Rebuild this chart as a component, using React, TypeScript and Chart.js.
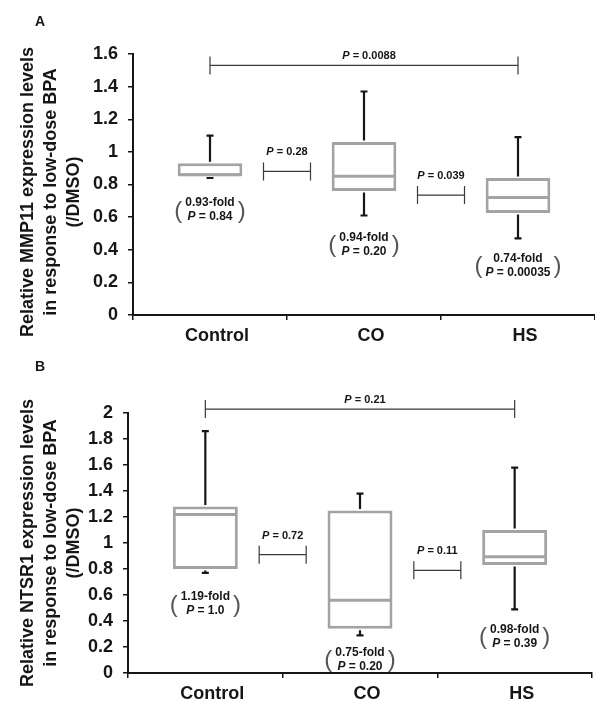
import React, { useEffect, useRef } from 'react';
import { Chart, registerables } from 'chart.js';

Chart.register(...registerables);

// ---------- Data ----------
const categories = ['Control', 'CO', 'HS'];

// Panel A: MMP11 (box plot summaries)
const mmp11Min = [0.84, 0.61, 0.47];
const mmp11Q1 = [0.85, 0.76, 0.625];
const mmp11Median = [0.86, 0.85, 0.72];
const mmp11Q3 = [0.93, 1.06, 0.84];
const mmp11Max = [1.1, 1.37, 1.09];
const mmp11Fold = ['0.93-fold', '0.94-fold', '0.74-fold'];
const mmp11FoldP = ['0.84', '0.20', '0.00035'];
// comparisons: [from category, to category, bracket height, P]
const mmp11Pairs = [
  [0, 2, 1.53, '0.0088'],
  [0, 1, 0.88, '0.28'],
  [1, 2, 0.735, '0.039'],
];

// Panel B: NTSR1
const ntsr1Min = [0.77, 0.29, 0.49];
const ntsr1Q1 = [0.8, 0.34, 0.83];
const ntsr1Median = [1.22, 0.56, 0.895];
const ntsr1Q3 = [1.28, 1.25, 1.1];
const ntsr1Max = [1.86, 1.38, 1.58];
const ntsr1Fold = ['1.19-fold', '0.75-fold', '0.98-fold'];
const ntsr1FoldP = ['1.0', '0.20', '0.39'];
const ntsr1Pairs = [
  [0, 2, 2.03, '0.21'],
  [0, 1, 0.91, '0.72'],
  [1, 2, 0.79, '0.11'],
];

// ---------- Styles ----------
const FONT = '"Liberation Sans", Arial, Helvetica, sans-serif';
const INK = '#161616';
const BOX_COLOR = '#a3a3a3';
const BRACKET_COLOR = '#3a3a3a';

type Panel = {
  letter: string;
  yTitle: string[];
  yMax: number;
  min: number[];
  q1: number[];
  median: number[];
  q3: number[];
  max: number[];
  fold: string[];
  foldP: string[];
  pairs: (number | string)[][];
  layout: { top: number; right: number; left: number; xHeight: number; labelGap: number[]; titleShift: string };
};

function drawPText(ctx: CanvasRenderingContext2D, cx: number, y: number, value: string, size: number) {
  const italic = `italic bold ${size}px ${FONT}`;
  const bold = `bold ${size}px ${FONT}`;
  ctx.font = italic;
  const w1 = ctx.measureText('P').width;
  const rest = ' = ' + value;
  ctx.font = bold;
  const w2 = ctx.measureText(rest).width;
  const start = cx - (w1 + w2) / 2;
  ctx.textAlign = 'left';
  ctx.textBaseline = 'middle';
  ctx.font = italic;
  ctx.fillText('P', start, y);
  ctx.font = bold;
  ctx.fillText(rest, start + w1, y);
  return w1 + w2;
}

const boxPlugin = {
  id: 'boxExtras',
  afterDatasetsDraw(chart: any, _args: any, opts: any) {
    const p: Panel = opts.panel;
    const ctx: CanvasRenderingContext2D = chart.ctx;
    const xs = chart.scales.x;
    const ys = chart.scales.y;
    const meta = chart.getDatasetMeta(0);
    ctx.save();

    meta.data.forEach((bar: any, i: number) => {
      const cx = bar.x;
      const half = bar.width / 2;
      // median
      ctx.strokeStyle = BOX_COLOR;
      ctx.lineWidth = 3;
      const my = ys.getPixelForValue(p.median[i]);
      ctx.beginPath();
      ctx.moveTo(cx - half + 1.5, my);
      ctx.lineTo(cx + half - 1.5, my);
      ctx.stroke();

      // whiskers
      ctx.strokeStyle = INK;
      ctx.lineWidth = 2.2;
      const yq3 = ys.getPixelForValue(p.q3[i]) - 1.5;
      const yq1 = ys.getPixelForValue(p.q1[i]) + 1.5;
      const yMaxP = ys.getPixelForValue(p.max[i]);
      const yMinP = ys.getPixelForValue(p.min[i]);
      ctx.beginPath();
      ctx.moveTo(cx, yq3);
      ctx.lineTo(cx, yMaxP);
      ctx.moveTo(cx - 3.5, yMaxP);
      ctx.lineTo(cx + 3.5, yMaxP);
      ctx.moveTo(cx, Math.min(yq1, yMinP));
      ctx.lineTo(cx, yMinP);
      ctx.moveTo(cx - 3.5, yMinP);
      ctx.lineTo(cx + 3.5, yMinP);
      ctx.stroke();

      // fold annotation
      const y1 = yMinP + p.layout.labelGap[i];
      const y2 = y1 + 14;
      ctx.fillStyle = INK;
      ctx.font = `bold 12px ${FONT}`;
      ctx.textAlign = 'center';
      ctx.textBaseline = 'middle';
      ctx.fillText(p.fold[i], cx, y1);
      const wFold = ctx.measureText(p.fold[i]).width;
      const wP = drawPText(ctx, cx, y2, p.foldP[i], 12);
      const hw = Math.max(wFold, wP) / 2 + 7;
      ctx.fillStyle = '#555';
      ctx.font = `24px ${FONT}`;
      ctx.textAlign = 'center';
      ctx.textBaseline = 'middle';
      ctx.fillText('(', cx - hw, (y1 + y2) / 2 + 1);
      ctx.fillText(')', cx + hw, (y1 + y2) / 2 + 1);
    });

    // comparison brackets
    p.pairs.forEach((pair) => {
      const a = pair[0] as number;
      const b = pair[1] as number;
      const yv = pair[2] as number;
      const pv = pair[3] as string;
      const y = ys.getPixelForValue(yv);
      let x1: number, x2: number, textGap: number;
      const tick = 9;
      if (b - a > 1) {
        x1 = xs.getPixelForValue(a);
        x2 = xs.getPixelForValue(b);
        textGap = 9;
      } else {
        const mid = xs.getPixelForValue((a + b) / 2);
        x1 = mid - 23.5;
        x2 = mid + 23.5;
        textGap = 19;
      }
      ctx.strokeStyle = BRACKET_COLOR;
      ctx.lineWidth = 1.2;
      ctx.beginPath();
      ctx.moveTo(x1, y);
      ctx.lineTo(x2, y);
      ctx.moveTo(x1, y - tick);
      ctx.lineTo(x1, y + tick);
      ctx.moveTo(x2, y - tick);
      ctx.lineTo(x2, y + tick);
      ctx.stroke();
      ctx.fillStyle = INK;
      drawPText(ctx, (x1 + x2) / 2 + (b - a > 1 ? 5 : 0), y - textGap, pv, 11);
    });

    // panel letter
    ctx.fillStyle = INK;
    ctx.font = `bold 14px ${FONT}`;
    ctx.textAlign = 'center';
    ctx.textBaseline = 'middle';
    ctx.fillText(p.letter, 40, 22);
    ctx.restore();
  },
};

function buildConfig(p: Panel): any {
  return {
    type: 'bar',
    data: {
      labels: categories,
      datasets: [
        {
          data: p.q1.map((v, i) => [v, p.q3[i]]),
          backgroundColor: '#ffffff',
          borderColor: BOX_COLOR,
          borderWidth: 3,
          borderSkipped: false,
          barPercentage: 0.42,
          categoryPercentage: 1,
        },
      ],
    },
    options: {
      responsive: false,
      maintainAspectRatio: false,
      animation: false,
      events: [],
      layout: { padding: { top: p.layout.top, right: p.layout.right, bottom: 0, left: 0 } },
      plugins: {
        legend: { display: false },
        tooltip: { enabled: false },
        title: { display: false },
        boxExtras: { panel: p },
      },
      scales: {
        x: {
          type: 'category',
          offset: true,
          grid: {
            offset: true,
            drawOnChartArea: false,
            drawTicks: true,
            tickLength: 5,
            color: INK,
            lineWidth: 1.5,
          },
          border: { display: true, color: INK, width: 2 },
          ticks: {
            color: INK,
            font: { family: FONT, size: 18, weight: 'bold' },
            padding: 5,
            labelOffset: 7,
            maxRotation: 0,
          },
          afterFit: (s: any) => {
            s.height = p.layout.xHeight;
          },
        },
        y: {
          min: 0,
          max: p.yMax,
          ticks: {
            stepSize: 0.2,
            color: INK,
            font: { family: FONT, size: 18, weight: 'bold' },
            padding: 10,
            callback: (v: any) => String(Number(Number(v).toFixed(2))),
          },
          grid: {
            drawOnChartArea: false,
            drawTicks: true,
            tickLength: 5,
            color: INK,
            lineWidth: 1.5,
          },
          border: { display: true, color: INK, width: 2 },
          title: {
            display: true,
            text: p.yTitle.map((t) => t + p.layout.titleShift),
            color: INK,
            font: { family: FONT, size: 18, weight: 'bold', lineHeight: 1.3 },
            padding: { top: 16, bottom: 0 },
          },
          afterFit: (s: any) => {
            s.width = p.layout.left;
          },
        },
      },
    },
    plugins: [boxPlugin],
  };
}

const panelA: Panel = {
  letter: 'A',
  yTitle: ['Relative MMP11 expression levels', 'in response to low-dose BPA', '(/DMSO)'],
  yMax: 1.6,
  min: mmp11Min,
  q1: mmp11Q1,
  median: mmp11Median,
  q3: mmp11Q3,
  max: mmp11Max,
  fold: mmp11Fold,
  foldP: mmp11FoldP,
  pairs: mmp11Pairs,
  layout: { top: 54, right: 0, left: 133, xHeight: 30, labelGap: [25, 22, 20], titleShift: '   ' },
};

const panelB: Panel = {
  letter: 'B',
  yTitle: ['Relative NTSR1 expression levels', 'in response to low-dose BPA', '(/DMSO)'],
  yMax: 2,
  min: ntsr1Min,
  q1: ntsr1Q1,
  median: ntsr1Median,
  q3: ntsr1Q3,
  max: ntsr1Max,
  fold: ntsr1Fold,
  foldP: ntsr1FoldP,
  pairs: ntsr1Pairs,
  layout: { top: 68, right: 3, left: 128, xHeight: 28, labelGap: [24, 17, 20], titleShift: '' },
};

function PanelChart({ panel, width, height }: { panel: Panel; width: number; height: number }) {
  const ref = useRef<HTMLCanvasElement | null>(null);
  useEffect(() => {
    if (!ref.current) return;
    const chart = new Chart(ref.current, buildConfig(panel));
    return () => chart.destroy();
  }, [panel]);
  return <canvas ref={ref} width={width} height={height} style={{ display: 'block', width, height }} />;
}

export default function App() {
  return (
    <div style={{ position: 'absolute', left: 0, top: 0, width: 595, height: 701, background: '#fff' }}>
      <div style={{ position: 'absolute', left: 0, top: 0 }}>
        <PanelChart panel={panelA} width={595} height={345} />
      </div>
      <div style={{ position: 'absolute', left: 0, top: 345 }}>
        <PanelChart panel={panelB} width={595} height={356} />
      </div>
    </div>
  );
}
